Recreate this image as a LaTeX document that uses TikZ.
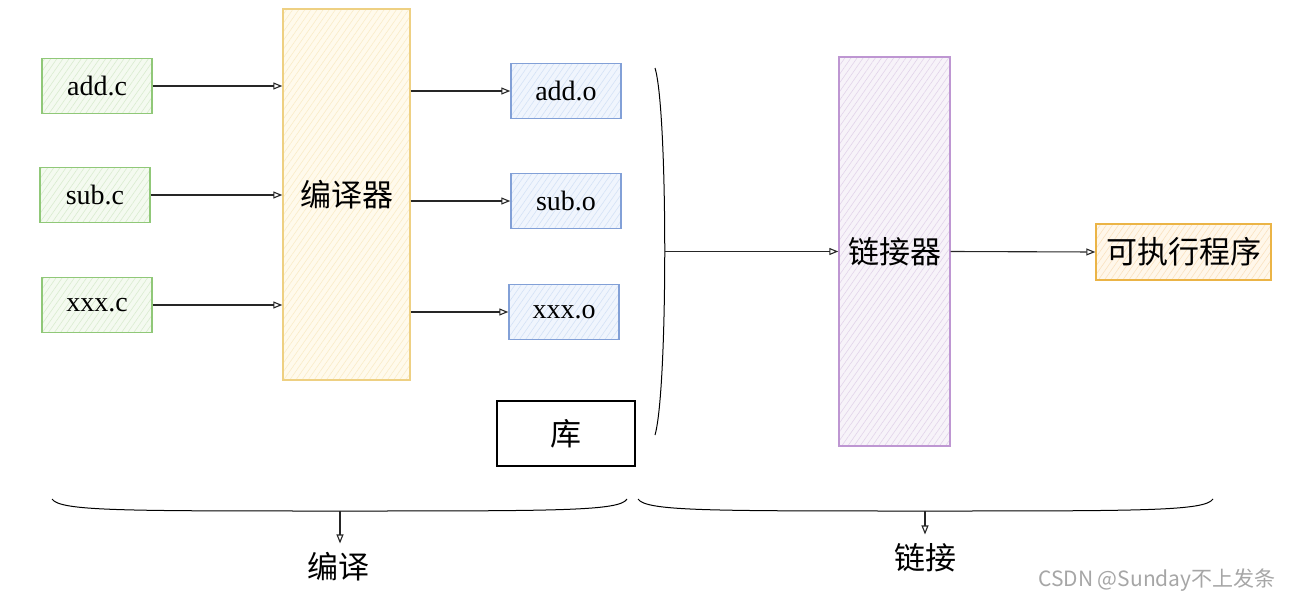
\documentclass[tikz,border=0pt]{standalone}
\usepackage{fontspec}
\setmainfont{Liberation Serif}
\newfontfamily\cjk{Noto Sans CJK SC}
\usepackage{tikz}
\usetikzlibrary{positioning, arrows.meta, patterns.meta}
\usepackage{xcolor}
\definecolor{verdeborda}{RGB}{144,200,120}
\definecolor{verdefundo}{RGB}{244,250,240}
\definecolor{verdetraco}{RGB}{218,236,208}
\definecolor{amarborda}{RGB}{238,208,130}
\definecolor{amarfundo}{RGB}{255,250,236}
\definecolor{amartraco}{RGB}{250,236,200}
\definecolor{azulborda}{RGB}{130,160,215}
\definecolor{azulfundo}{RGB}{240,245,253}
\definecolor{azultraco}{RGB}{212,226,246}
\definecolor{roxoborda}{RGB}{190,150,210}
\definecolor{roxofundo}{RGB}{247,243,249}
\definecolor{roxotraco}{RGB}{226,212,234}
\definecolor{larborda}{RGB}{235,180,70}
\definecolor{larfundo}{RGB}{255,247,234}
\definecolor{lartraco}{RGB}{250,226,192}
\tikzset{
  caixa/.style={draw, line width=1.4pt, inner sep=0pt},
  hachura/.style 2 args={preaction={fill=#1},
    preaction={pattern color=#2, pattern={Lines[angle=55, distance=5pt, line width=0.6pt]}}},
  fonte/.style={caixa, draw=verdeborda, hachura={verdefundo}{verdetraco},
    minimum width=110pt, minimum height=55pt, font=\fontsize{28}{32}\selectfont},
  objeto/.style={caixa, draw=azulborda, hachura={azulfundo}{azultraco},
    minimum width=110pt, minimum height=55pt, font=\fontsize{28}{32}\selectfont},
  rotulo/.style={inner sep=0pt, font=\cjk\fontsize{31}{34}\selectfont},
  seta/.style={line width=1.1pt, black!85, -{Triangle[open, length=9pt, width=7pt]}}
}

\begin{document}
\begin{tikzpicture}[x=1pt, y=-1pt, font=\cjk\fontsize{31}{34}\selectfont]
  \useasboundingbox (0,0) rectangle (1293,602);
  % compilador e ligador: barras altas no meio de cada etapa
  \node[caixa, draw=amarborda, hachura={amarfundo}{amartraco},
    minimum width=127pt, minimum height=371pt] (cc) at (346.5,194.5) {编译器};
  \node[caixa, draw=roxoborda, hachura={roxofundo}{roxotraco},
    minimum width=111pt, minimum height=389pt] (ld) at (894.5,251.5) {链接器};
  \node[caixa, draw=larborda, hachura={larfundo}{lartraco},
    minimum width=175pt, minimum height=56pt] (exe) at (1183.5,252) {可执行程序};
  \node[caixa, draw=black, line width=1.8pt,
    minimum width=138pt, minimum height=65pt] (lib) at (566,433.5) {库};
  \foreach \xn/\xarq/\xsx/\xsy/\xox/\xoy in {
    1/add/97/86/566/91, 2/sub/95/195/566/201, 3/xxx/97/305/564/312}
  { \node[fonte] (src\xn) at (\xsx,\xsy) {\xarq.c};
    \node[objeto] (obj\xn) at (\xox,\xoy) {\xarq.o};
    \draw[seta] (src\xn.east) -- (src\xn.east -| cc.west);
    \draw[seta] (obj\xn.west -| cc.east) -- (obj\xn.west); }
  \draw[line width=1pt] (655,68) .. controls (668,110) and (668,390) .. (655,435);
  \coordinate (juncao) at (664.5,251.5);
  \draw[seta] (juncao) -- (ld.west |- juncao);
  \draw[seta] (ld.east) -- (exe.west);
  % chaves de baixo com o nome de cada etapa
  \draw[line width=1pt] (52,499) .. controls (60,511) and (120,511) .. (340,511)
    .. controls (560,511) and (620,511) .. (627,499);
  \draw[line width=1pt] (638,499) .. controls (646,511) and (706,511) .. (925,511)
    .. controls (1144,511) and (1205,511) .. (1213,499);
  \coordinate (chaveA) at (340,511);
  \coordinate (chaveB) at (925,511);
  \node[rotulo] (lblA) at (338,567) {编译};
  \node[rotulo] (lblB) at (925,558) {链接};
  \draw[seta, shorten >=9pt] (chaveA) -- (chaveA |- lblA.north);
  \draw[seta, shorten >=9pt] (chaveB) -- (chaveB |- lblB.north);
  \node[inner sep=0pt, text=black!35, font=\cjk\fontsize{21}{24}\selectfont]
    (marca) at (1157,580) {CSDN @Sunday不上发条};
\end{tikzpicture}
\end{document}
